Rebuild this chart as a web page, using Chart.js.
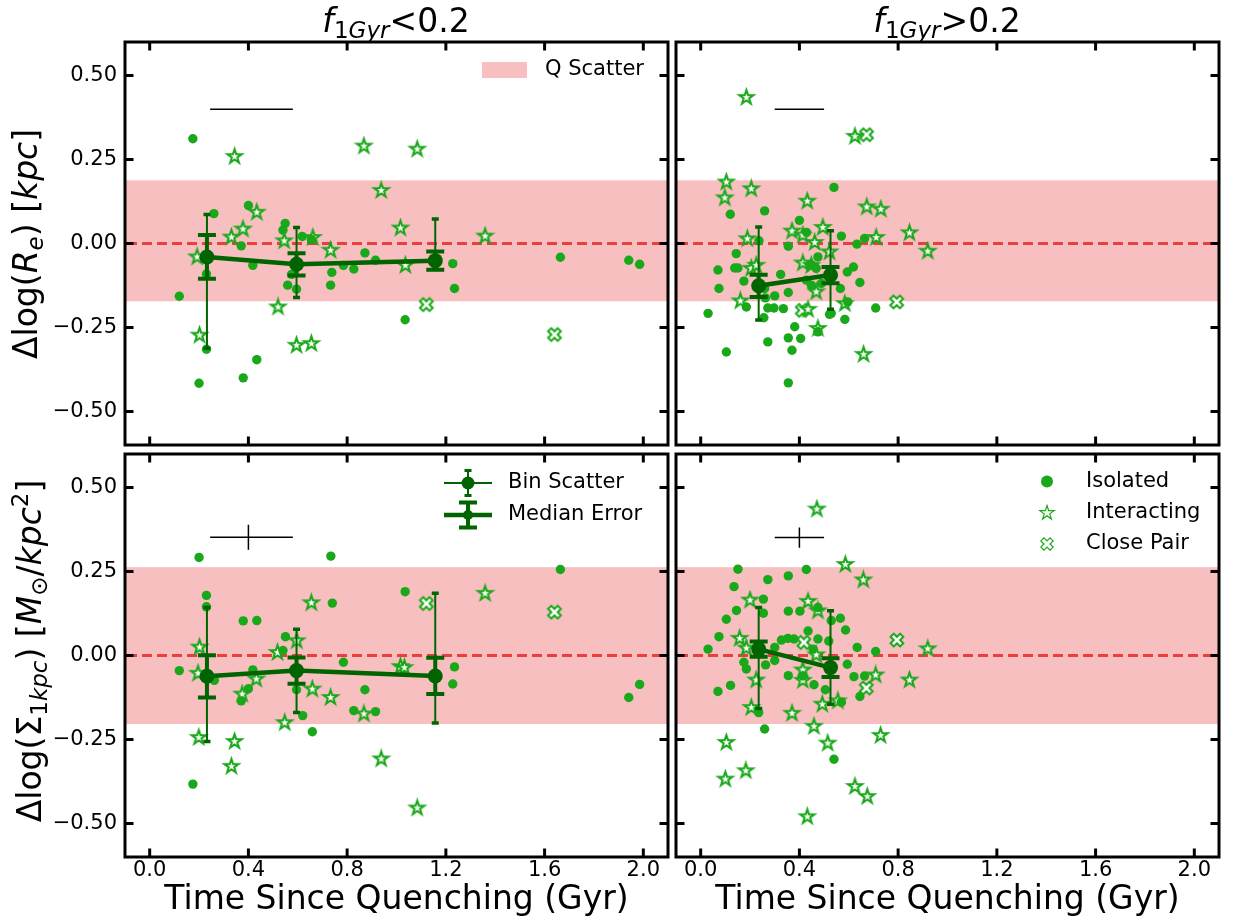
<!DOCTYPE html>
<html>
<head>
<meta charset="utf-8">
<title>Size and central density offsets vs. time since quenching</title>
<script src="https://cdn.jsdelivr.net/npm/chart.js@4.4.1/dist/chart.umd.min.js"></script>
<style>
  html, body { margin: 0; padding: 0; background: #fff; }
  #page { position: relative; width: 1234px; height: 924px; overflow: hidden;
          font-family: 'DejaVu Sans', sans-serif; color: #000; }
  #page canvas { position: absolute; left: 0; top: 0; }
  .lab { position: absolute; font-size: 33px; line-height: 33px; height: 33px; white-space: nowrap; }
  .lab i { font-style: oblique; }
  .lab sub, .lab sup { font-size: 23px; line-height: 23px; }
  .lab sub { vertical-align: -6px; }
  .lab sup { vertical-align: 13px; }
  .col { top: 4px; transform: translateX(-50%); }
  .ylab { transform: translate(-50%, -50%) rotate(-90deg); }
</style>
</head>
<body>
<div id="page">
  <canvas id="pTL" width="1234" height="924"></canvas>
  <canvas id="pTR" width="1234" height="924"></canvas>
  <canvas id="pBL" width="1234" height="924"></canvas>
  <canvas id="pBR" width="1234" height="924"></canvas>
  <div class="lab col" style="left:396px"><i>f</i><sub>1<i>Gyr</i></sub>&lt;0.2</div>
  <div class="lab col" style="left:947px"><i>f</i><sub>1<i>Gyr</i></sub>&gt;0.2</div>
  <div class="lab ylab" style="left:25px;top:244px">&Delta;log(<i>R</i><sub><i>e</i></sub>) [<i>kpc</i>]</div>
  <div class="lab ylab" style="left:25px;top:651px">&Delta;log(&Sigma;<sub>1<i>kpc</i></sub>) [<i>M</i><sub>&#8857;</sub>/<i>kpc</i><sup>2</sup>]</div>
</div>
<script>
// axes
const xTicks = [0.0, 0.4, 0.8, 1.2, 1.6, 2.0];
const yTicks = [-0.5, -0.25, 0.0, 0.25, 0.5];
const xTitle = 'Time Since Quenching (Gyr)';
const groupLabels = ['Isolated', 'Interacting', 'Close Pair'];
const binLabels = ['Bin Scatter', 'Median Error'];
const bandLabel = 'Q Scatter';

// quiescent scatter bands [low, high]
const reBand = [-0.172, 0.188];
const sdBand = [-0.204, 0.263];

// ---- delta log Re, f1Gyr < 0.2
const reLowIso = [[0.175,0.312],[0.26,0.089],[0.40,0.113],[0.371,-0.007],[0.418,-0.065],[0.23,-0.091],[0.12,-0.157],[0.23,-0.315],[0.20,-0.416],[0.379,-0.40],[0.434,-0.346],[0.549,0.06],[0.54,0.04],[0.618,0.021],[0.575,-0.092],[0.559,-0.124],[0.595,-0.136],[0.738,-0.086],[0.733,-0.124],[0.785,-0.065],[0.827,-0.076],[0.872,-0.028],[0.915,-0.05],[0.655,0.012],[1.228,-0.06],[1.235,-0.134],[1.035,-0.227],[1.664,-0.041],[1.941,-0.05],[1.985,-0.062]];
const reLowInt = [[0.344,0.259],[0.868,0.29],[0.938,0.158],[0.434,0.093],[0.378,0.043],[0.331,0.019],[0.545,0.008],[0.661,0.018],[0.733,-0.02],[0.192,-0.04],[0.52,-0.189],[0.202,-0.273],[0.595,-0.303],[0.655,-0.298],[1.016,0.046],[1.084,0.281],[1.036,-0.065],[1.359,0.022]];
const reLowPair = [[1.121,-0.182],[1.640,-0.271]];
const reLowBinX = [0.232, 0.595, 1.157];
const reLowBinMed = [-0.040, -0.062, -0.051];
const reLowBinLo = [-0.312, -0.161, -0.076];
const reLowBinHi = [0.086, 0.048, 0.073];
const reLowMedErr = [0.065, 0.033, 0.027];
const reLowRepX = [0.245, 0.40, 0.58];
const reLowRepY = [0.398, 0.40, 0.402];

// ---- delta log Re, f1Gyr > 0.2
const reHighIso = [[0.540,0.167],[0.259,0.097],[0.12,0.087],[0.40,0.069],[0.429,0.033],[0.57,0.022],[0.236,0.008],[0.355,-0.008],[0.633,-0.002],[0.664,0.015],[0.144,-0.03],[0.138,-0.073],[0.151,-0.073],[0.07,-0.079],[0.074,-0.134],[0.175,-0.112],[0.324,-0.092],[0.355,-0.146],[0.30,-0.156],[0.262,-0.162],[0.185,-0.189],[0.256,-0.221],[0.272,-0.192],[0.297,-0.192],[0.335,-0.194],[0.03,-0.208],[0.104,-0.323],[0.272,-0.293],[0.381,-0.248],[0.355,-0.281],[0.405,-0.283],[0.37,-0.318],[0.355,-0.415],[0.475,-0.04],[0.448,-0.063],[0.468,-0.074],[0.428,-0.109],[0.448,-0.124],[0.489,-0.119],[0.566,-0.134],[0.594,-0.085],[0.619,-0.07],[0.645,-0.116],[0.709,-0.192],[0.522,-0.211],[0.584,-0.226],[0.475,-0.263],[0.529,-0.208],[0.259,-0.134],[0.596,-0.174]];
const reHighInt = [[0.185,0.435],[0.625,0.319],[0.104,0.183],[0.205,0.163],[0.098,0.136],[0.432,0.126],[0.673,0.109],[0.73,0.102],[0.37,0.037],[0.495,0.048],[0.414,0.025],[0.462,0.003],[0.711,0.018],[0.846,0.032],[0.92,-0.023],[0.189,0.014],[0.522,-0.025],[0.414,-0.058],[0.448,-0.065],[0.205,-0.074],[0.225,-0.065],[0.468,-0.144],[0.161,-0.171],[0.584,-0.179],[0.475,-0.253],[0.66,-0.33],[0.435,-0.196]];
const reHighPair = [[0.672,0.324],[0.794,-0.174],[0.412,-0.199]];
const reHighBinX = [0.235, 0.526];
const reHighBinMed = [-0.126, -0.094];
const reHighBinLo = [-0.228, -0.196];
const reHighBinHi = [0.049, 0.038];
const reHighMedErr = [0.033, 0.024];
const reHighRepX = [0.30, 0.40, 0.50];
const reHighRepY = [0.398, 0.40, 0.402];

// ---- delta log Sigma1kpc, f1Gyr < 0.2
const sdLowIso = [[0.20,0.292],[0.734,0.296],[0.23,0.179],[0.23,0.145],[0.74,0.156],[0.379,0.103],[0.434,0.104],[0.55,0.056],[0.54,0.015],[0.12,-0.045],[0.262,-0.074],[0.418,-0.043],[0.40,-0.099],[0.371,-0.135],[0.595,-0.102],[0.62,-0.179],[0.659,-0.227],[0.785,-0.02],[0.872,-0.102],[0.827,-0.164],[0.915,-0.167],[0.175,-0.383],[1.035,0.19],[1.664,0.256],[1.235,-0.034],[1.228,-0.085],[1.941,-0.125],[1.985,-0.086]];
const sdLowInt = [[0.655,0.157],[0.596,0.044],[0.518,0.009],[0.202,0.025],[0.196,-0.053],[0.432,-0.07],[0.375,-0.115],[0.659,-0.10],[0.733,-0.125],[0.868,-0.174],[0.547,-0.2],[0.199,-0.244],[0.344,-0.256],[0.331,-0.33],[0.938,-0.308],[1.016,-0.033],[1.032,-0.036],[1.359,0.185],[1.084,-0.454]];
const sdLowPair = [[1.121,0.155],[1.640,0.129]];
const sdLowBinX = [0.232, 0.595, 1.157];
const sdLowBinMed = [-0.062, -0.045, -0.061];
const sdLowBinLo = [-0.256, -0.170, -0.201];
const sdLowBinHi = [0.143, 0.078, 0.185];
const sdLowMedErr = [0.063, 0.039, 0.054];
const sdLowRepX = [0.245, 0.40, 0.58];
const sdLowRepY = [0.315, 0.352, 0.389];

// ---- delta log Sigma1kpc, f1Gyr > 0.2
const sdHighIso = [[0.151,0.257],[0.428,0.256],[0.272,0.226],[0.355,0.237],[0.135,0.205],[0.254,0.168],[0.145,0.134],[0.254,0.126],[0.104,0.108],[0.355,0.132],[0.402,0.132],[0.475,0.143],[0.529,0.104],[0.566,0.111],[0.435,0.073],[0.587,0.076],[0.074,0.056],[0.03,0.019],[0.327,0.046],[0.353,0.051],[0.378,0.049],[0.30,0.024],[0.30,-0.015],[0.475,0.049],[0.519,0.043],[0.455,0.019],[0.634,0.024],[0.709,0.012],[0.175,-0.02],[0.185,-0.04],[0.263,-0.028],[0.594,-0.026],[0.355,-0.06],[0.621,-0.063],[0.664,-0.061],[0.459,-0.087],[0.505,-0.102],[0.07,-0.107],[0.121,-0.089],[0.645,-0.122],[0.57,-0.139],[0.235,-0.17],[0.259,-0.219],[0.54,-0.309],[0.414,-0.061]];
const sdHighInt = [[0.471,0.436],[0.586,0.271],[0.659,0.225],[0.20,0.165],[0.435,0.161],[0.475,0.133],[0.158,0.051],[0.185,0.022],[0.92,0.02],[0.468,0.002],[0.414,-0.043],[0.414,-0.074],[0.709,-0.058],[0.846,-0.073],[0.225,-0.073],[0.205,-0.155],[0.37,-0.172],[0.493,-0.145],[0.556,-0.135],[0.459,-0.211],[0.515,-0.261],[0.729,-0.238],[0.104,-0.259],[0.183,-0.343],[0.10,-0.368],[0.625,-0.39],[0.675,-0.42],[0.432,-0.48]];
const sdHighPair = [[0.795,0.046],[0.418,0.039],[0.671,-0.097]];
const sdHighBinX = [0.235, 0.526];
const sdHighBinMed = [0.019, -0.036];
const sdHighBinLo = [-0.158, -0.145];
const sdHighBinHi = [0.143, 0.133];
const sdHighMedErr = [0.023, 0.028];
const sdHighRepX = [0.30, 0.40, 0.50];
const sdHighRepY = [0.321, 0.351, 0.381];

const FONT = "'DejaVu Sans', sans-serif";
const GREEN = '#19a819';
const DARK = '#006400';
const BAND = 'rgba(240,128,128,0.5)';
const ZERO = 'rgba(232,30,30,0.8)';

Chart.defaults.font.family = FONT;

// hollow marker images (star and filled-X outline)
function starImg(R, lw) {
  const c = document.createElement('canvas');
  const s = Math.ceil(2 * R + 2 * lw + 2);
  c.width = c.height = s;
  const g = c.getContext('2d');
  g.beginPath();
  for (let i = 0; i < 10; i++) {
    const a = -Math.PI / 2 + i * Math.PI / 5;
    const rr = i % 2 ? R * 0.382 : R;
    g.lineTo(s / 2 + rr * Math.cos(a), s / 2 + rr * Math.sin(a));
  }
  g.closePath();
  g.fillStyle = '#fff'; g.fill();
  g.strokeStyle = GREEN; g.lineWidth = lw; g.stroke();
  return c;
}
function xImg(S, lw) {
  const c = document.createElement('canvas');
  const s = Math.ceil(S + 2 * lw + 4);
  c.width = c.height = s;
  const g = c.getContext('2d');
  const pts = [[-1,-3],[1,-3],[1,-1],[3,-1],[3,1],[1,1],[1,3],[-1,3],[-1,1],[-3,1],[-3,-1],[-1,-1]];
  const k = S / 6;
  g.beginPath();
  pts.forEach(([px, py]) => {
    const rx = (px - py) / Math.SQRT2, ry = (px + py) / Math.SQRT2;
    g.lineTo(s / 2 + rx * k, s / 2 + ry * k);
  });
  g.closePath();
  g.fillStyle = '#fff'; g.fill();
  g.strokeStyle = GREEN; g.lineWidth = lw; g.lineJoin = 'miter'; g.stroke();
  return c;
}
const STAR = starImg(7.5, 2), CROSS = xImg(13.5, 2);
const STAR_L = starImg(7.5, 1.2), CROSS_L = xImg(13, 1.2);

const toXY = arr => arr.map(([x, y]) => ({x, y}));
const fmtY = v => (v < 0 ? '\u2212' : '') + Math.abs(v).toFixed(2);

function errBar(ctx, x, yA, yB, lw, capW, capLw) {
  ctx.lineWidth = lw;
  ctx.beginPath(); ctx.moveTo(x, yA); ctx.lineTo(x, yB); ctx.stroke();
  ctx.lineWidth = capLw;
  ctx.beginPath();
  ctx.moveTo(x - capW / 2, yA); ctx.lineTo(x + capW / 2, yA);
  ctx.moveTo(x - capW / 2, yB); ctx.lineTo(x + capW / 2, yB);
  ctx.stroke();
}

function deco(p) {
  return {
    id: 'deco',
    beforeDatasetsDraw(chart) {
      const {ctx, chartArea: a, scales: {y}} = chart;
      ctx.save();
      const yHi = y.getPixelForValue(p.band[1]), yLo = y.getPixelForValue(p.band[0]);
      ctx.fillStyle = BAND;
      ctx.fillRect(a.left, yHi, a.right - a.left, yLo - yHi);
      const y0 = y.getPixelForValue(0);
      ctx.strokeStyle = ZERO; ctx.lineWidth = 3; ctx.setLineDash([10, 5]);
      ctx.beginPath(); ctx.moveTo(a.left + 2, y0); ctx.lineTo(a.right, y0); ctx.stroke();
      ctx.restore();
    },
    beforeDatasetDraw(chart, args) {
      if (args.index !== 0) return;
      const {ctx, scales: {x, y}} = chart;
      ctx.save();
      ctx.strokeStyle = DARK;
      p.binX.forEach((bx, i) => {
        const px = x.getPixelForValue(bx);
        errBar(ctx, px, y.getPixelForValue(p.binHi[i]), y.getPixelForValue(p.binLo[i]), 2, 7, 3.5);
        errBar(ctx, px, y.getPixelForValue(p.binMed[i] + p.medErr[i]),
               y.getPixelForValue(p.binMed[i] - p.medErr[i]), 4, 18, 4);
      });
      ctx.restore();
    },
    afterDatasetsDraw(chart) {
      const {ctx, scales: {x, y}} = chart;
      ctx.save();
      ctx.strokeStyle = '#000'; ctx.lineWidth = 1.5;
      const yc = y.getPixelForValue(p.repY[1]), xc = x.getPixelForValue(p.repX[1]);
      ctx.beginPath();
      ctx.moveTo(x.getPixelForValue(p.repX[0]), yc); ctx.lineTo(x.getPixelForValue(p.repX[2]), yc);
      ctx.moveTo(xc, y.getPixelForValue(p.repY[0])); ctx.lineTo(xc, y.getPixelForValue(p.repY[2]));
      ctx.stroke();
      ctx.restore();
    },
    afterDraw(chart) {
      const {ctx, chartArea: a, scales: {x, y}} = chart;
      ctx.save();
      ctx.strokeStyle = '#000';
      ctx.lineWidth = 3;
      ctx.strokeRect(a.left, a.top, a.right - a.left, a.bottom - a.top);
      const tl = 8.5;
      ctx.beginPath();
      xTicks.forEach(v => {
        const px = x.getPixelForValue(v);
        ctx.moveTo(px, a.bottom); ctx.lineTo(px, a.bottom - tl);
        ctx.moveTo(px, a.top); ctx.lineTo(px, a.top + tl);
      });
      yTicks.forEach(v => {
        const py = y.getPixelForValue(v);
        ctx.moveTo(a.left, py); ctx.lineTo(a.left + tl, py);
        ctx.moveTo(a.right, py); ctx.lineTo(a.right - tl, py);
      });
      ctx.stroke();

      // legends
      ctx.fillStyle = '#000';
      ctx.font = '21px ' + FONT;
      ctx.textBaseline = 'middle';
      ctx.textAlign = 'left';
      if (p.legend === 'band') {
        ctx.fillStyle = BAND;
        ctx.fillRect(a.right - 186, a.top + 20, 45, 16);
        ctx.fillStyle = '#000';
        ctx.fillText(bandLabel, a.right - 123, a.top + 28);
      } else if (p.legend === 'bins') {
        const hx = a.right - 200, tx = a.right - 160;
        const r1 = a.top + 29, r2 = a.top + 61;
        ctx.strokeStyle = DARK; ctx.fillStyle = DARK;
        ctx.lineWidth = 2;
        ctx.beginPath(); ctx.moveTo(hx - 24, r1); ctx.lineTo(hx + 24, r1); ctx.stroke();
        errBar(ctx, hx, r1 - 12.5, r1 + 12.5, 2, 7, 3);
        ctx.beginPath(); ctx.arc(hx, r1, 6.5, 0, 2 * Math.PI); ctx.fill();
        ctx.lineWidth = 4.5;
        ctx.beginPath(); ctx.moveTo(hx - 24, r2); ctx.lineTo(hx + 24, r2); ctx.stroke();
        errBar(ctx, hx, r2 - 12.5, r2 + 12.5, 4, 18, 4);
        ctx.beginPath(); ctx.arc(hx, r2, 5, 0, 2 * Math.PI); ctx.fill();
        ctx.fillStyle = '#000';
        ctx.fillText(binLabels[0], tx, r1);
        ctx.fillText(binLabels[1], tx, r2);
      } else if (p.legend === 'groups') {
        const hx = a.right - 172, tx = a.right - 133;
        const rows = [a.top + 27.5, a.top + 59, a.top + 90];
        ctx.fillStyle = GREEN;
        ctx.beginPath(); ctx.arc(hx, rows[0], 6, 0, 2 * Math.PI); ctx.fill();
        ctx.drawImage(STAR_L, hx - STAR_L.width / 2, rows[1] - STAR_L.height / 2);
        ctx.drawImage(CROSS_L, hx - CROSS_L.width / 2, rows[2] - CROSS_L.height / 2);
        ctx.fillStyle = '#000';
        groupLabels.forEach((t, i) => ctx.fillText(t, tx, rows[i]));
      }
      ctx.restore();
    }
  };
}

function makeChart(id, p) {
  const [l, t, r, b] = p.area;
  const yW = p.showY ? 125 : 0;
  const xH = p.showX ? 67 : 0;
  return new Chart(document.getElementById(id), {
    type: 'scatter',
    data: {
      datasets: [
        { type: 'line', label: binLabels[0],
          data: p.binX.map((bx, i) => ({x: bx, y: p.binMed[i]})),
          borderColor: DARK, borderWidth: 4.5, tension: 0, fill: false,
          pointRadius: 7.5, pointHoverRadius: 7.5, pointBackgroundColor: DARK,
          pointBorderWidth: 0 },
        { label: groupLabels[0], data: toXY(p.iso), pointStyle: 'circle',
          pointRadius: 4.7, pointHoverRadius: 4.7, backgroundColor: GREEN, borderWidth: 0 },
        { label: groupLabels[1], data: toXY(p.inter), pointStyle: STAR,
          pointRadius: 7, pointHoverRadius: 7 },
        { label: groupLabels[2], data: toXY(p.pair), pointStyle: CROSS,
          pointRadius: 7, pointHoverRadius: 7 }
      ]
    },
    options: {
      responsive: false,
      animation: false,
      devicePixelRatio: 1,
      events: [],
      layout: { padding: { left: l - yW, top: t, right: 1234 - r, bottom: 924 - b - xH } },
      plugins: { legend: { display: false }, tooltip: { enabled: false } },
      scales: {
        x: {
          type: 'linear', min: -0.1, max: 2.1, display: p.showX,
          afterBuildTicks: s => { s.ticks = xTicks.map(v => ({value: v})); },
          afterFit: s => { s.height = xH; },
          grid: { display: false, drawTicks: false },
          border: { display: false },
          ticks: { padding: 1, color: '#000', font: { size: 21 }, maxRotation: 0,
                   callback: v => v.toFixed(1) },
          title: { display: true, text: xTitle, color: '#000',
                   font: { size: 33, lineHeight: 1.2 }, padding: { top: 0, bottom: 4 } }
        },
        y: {
          type: 'linear', min: -0.6, max: 0.6, display: p.showY,
          afterBuildTicks: s => { s.ticks = yTicks.map(v => ({value: v})); },
          afterFit: s => { s.width = yW; },
          grid: { display: false, drawTicks: false },
          border: { display: false },
          ticks: { padding: 8, color: '#000', font: { size: 21 }, callback: fmtY }
        }
      }
    },
    plugins: [deco(p)]
  });
}

makeChart('pTL', { area: [125, 42, 668, 445], showX: false, showY: true, legend: 'band',
  iso: reLowIso, inter: reLowInt, pair: reLowPair, band: reBand,
  binX: reLowBinX, binMed: reLowBinMed, binLo: reLowBinLo, binHi: reLowBinHi, medErr: reLowMedErr,
  repX: reLowRepX, repY: reLowRepY });
makeChart('pTR', { area: [676, 42, 1219, 445], showX: false, showY: false, legend: null,
  iso: reHighIso, inter: reHighInt, pair: reHighPair, band: reBand,
  binX: reHighBinX, binMed: reHighBinMed, binLo: reHighBinLo, binHi: reHighBinHi, medErr: reHighMedErr,
  repX: reHighRepX, repY: reHighRepY });
makeChart('pBL', { area: [125, 454, 668, 857], showX: true, showY: true, legend: 'bins',
  iso: sdLowIso, inter: sdLowInt, pair: sdLowPair, band: sdBand,
  binX: sdLowBinX, binMed: sdLowBinMed, binLo: sdLowBinLo, binHi: sdLowBinHi, medErr: sdLowMedErr,
  repX: sdLowRepX, repY: sdLowRepY });
makeChart('pBR', { area: [676, 454, 1219, 857], showX: true, showY: false, legend: 'groups',
  iso: sdHighIso, inter: sdHighInt, pair: sdHighPair, band: sdBand,
  binX: sdHighBinX, binMed: sdHighBinMed, binLo: sdHighBinLo, binHi: sdHighBinHi, medErr: sdHighMedErr,
  repX: sdHighRepX, repY: sdHighRepY });
</script>
</body>
</html>
